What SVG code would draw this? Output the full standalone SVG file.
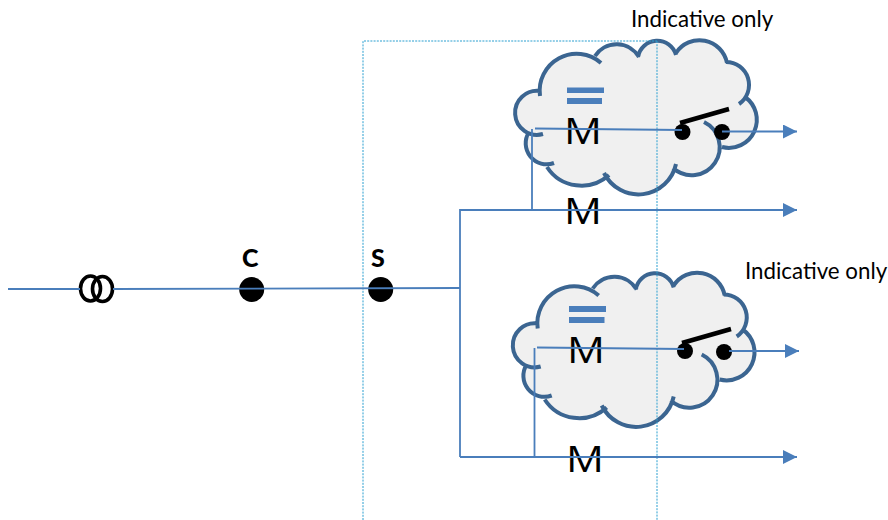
<svg xmlns="http://www.w3.org/2000/svg" width="888" height="520" viewBox="0 0 888 520">
<style>
.wire{fill:none;stroke:#4a7ebb;stroke-width:1.8}
.guide{fill:none;stroke:#2a9fd0;stroke-width:1;stroke-dasharray:2 1.2}
.bar{fill:#4a7ebb}
.dot{fill:#000}
.blade{stroke:#000;stroke-width:4.5;fill:none}
.coil{fill:none;stroke:#000;stroke-width:3.6}
.m{font-family:"Open Sans",sans-serif;font-size:36px;fill:#000}
.lbl{font-family:Lato,"Open Sans",sans-serif;font-size:22.3px;fill:#000}
.tag{font-family:Lato,"Open Sans",sans-serif;font-size:25px;font-weight:900;fill:#000}
.cfill{fill:#f0f0f0;stroke:none}
.cline{fill:none;stroke:#3b6591;stroke-width:4}
</style>
<defs>
<marker id="arrow" viewBox="0 0 14 14" refX="14" refY="7" markerWidth="14" markerHeight="14" markerUnits="userSpaceOnUse" orient="auto"><path d="M0 0L14 7L0 14Z" fill="#4a7ebb"/></marker>
<g id="cloud">
<path class="cfill" d="M541 96A37 37 0 0 1 602 63L596 56A26 26 0 0 1 640 57A19.500 19.500 0 0 1 677 55A28 28 0 0 1 728 63A23 23 0 0 1 740 104L746 97A28 28 0 0 1 723 147L705 122A28 28 0 1 1 674 168L677 164A38.400 38.400 0 0 1 605 173L610 175A41 41 0 0 1 548 167L555 163A21 21 0 0 1 530 132L544 134A22 22 0 1 1 541 91Z"/>
<path class="cline" d="M541 96A37 37 0 0 1 602 63M596 56A26 26 0 0 1 640 57M639 57A19.500 19.500 0 0 1 677 55M677 53A28 28 0 0 1 728 63M727 62A23 23 0 0 1 740 104M746 97A28 28 0 0 1 723 147M705 122A28 28 0 1 1 674 168M677 164A38.400 38.400 0 0 1 605 173M610 175A41 41 0 0 1 548 167M555 163A21 21 0 0 1 530 132M544 134A22 22 0 1 1 541 91"/>
</g>
</defs>
<g id="cloud-upper"><use href="#cloud" x="-1"/></g>
<g id="cloud-lower"><use href="#cloud" x="-3.300" y="232.500"/></g>
<g id="guides">
<path class="guide" d="M363 520V41H657M657 41V520"/>
</g>
<g id="coil"><ellipse class="coil" cx="90.500" cy="288.500" rx="10" ry="12.500"/><ellipse class="coil" cx="102.500" cy="289" rx="10" ry="12.500"/></g>
<g id="node-c"><circle class="dot" cx="251.700" cy="289.500" r="12.500"/><text class="tag" x="242" y="267">C</text></g>
<g id="node-s"><circle class="dot" cx="380.700" cy="289.500" r="12.500"/><text class="tag" x="371" y="267">S</text></g>
<g id="switch-upper"><circle class="dot" cx="682.500" cy="132" r="8"/><circle class="dot" cx="722" cy="132" r="8"/><path class="blade" d="M680 123L729 109"/></g>
<g id="switch-lower"><circle class="dot" cx="685" cy="351" r="8"/><circle class="dot" cx="724" cy="352" r="8"/><path class="blade" d="M682 343L731 329"/></g>
<g id="equals-upper"><rect class="bar" x="567" y="87.500" width="37" height="5.500"/><rect class="bar" x="567" y="98" width="35" height="6"/></g>
<g id="equals-lower"><rect class="bar" x="569" y="306" width="37" height="6"/><rect class="bar" x="569" y="317" width="35.500" height="6"/></g>
<g id="labels">
<text class="m" x="564" y="144" textLength="38" lengthAdjust="spacingAndGlyphs">M</text>
<text class="m" x="564" y="224" textLength="38" lengthAdjust="spacingAndGlyphs">M</text>
<text class="m" x="567" y="363" textLength="38" lengthAdjust="spacingAndGlyphs">M</text>
<text class="m" x="566" y="472" textLength="38" lengthAdjust="spacingAndGlyphs">M</text>
<text class="lbl" x="631" y="27">Indicative only</text>
<text class="lbl" x="745" y="279">Indicative only</text>
</g>
<g id="connectors">
<path class="wire" d="M8 289H80M113 289L460 288"/>
<path class="wire" d="M460 288V457"/>
<path class="wire" d="M460 288V210H797" marker-end="url(#arrow)"/>
<path class="wire" d="M460 457H797" marker-end="url(#arrow)"/>
<path class="wire" d="M532 210V129"/>
<path class="wire" d="M535 128.500L682 130"/>
<path class="wire" d="M722 131.500H797" marker-end="url(#arrow)"/>
<path class="wire" d="M534.500 457V348"/>
<path class="wire" d="M537 347.500L684 349"/>
<path class="wire" d="M729 351H799" marker-end="url(#arrow)"/>
</g>
</svg>
